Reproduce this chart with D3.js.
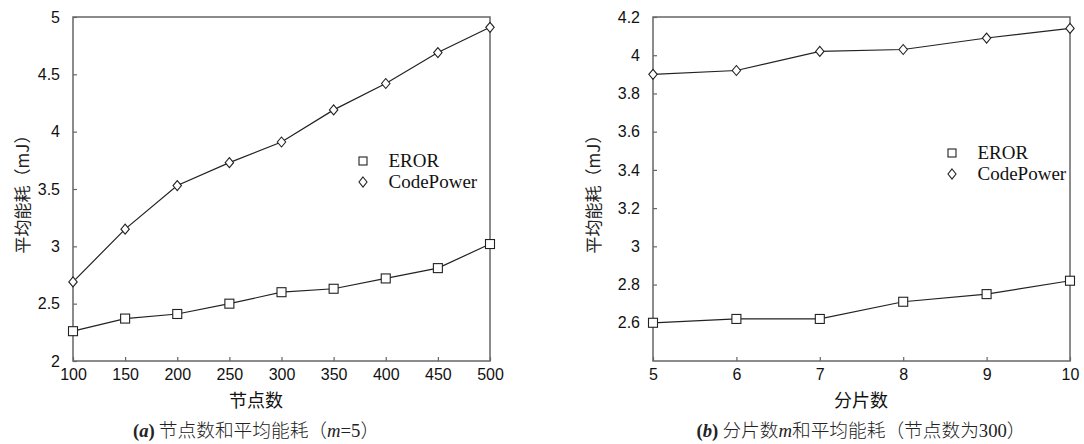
<!DOCTYPE html>
<html><head><meta charset="utf-8">
<script src="https://cdn.jsdelivr.net/npm/d3@7"></script>
<style>
body{margin:0;background:#fff;}
svg{display:block;}
</style></head>
<body>
<svg id="c" width="1084" height="444"></svg>
<script>
// Panel (a)
const nodesX = [100,150,200,250,300,350,400,450,500];
const erorA = [2.26,2.37,2.41,2.50,2.60,2.63,2.72,2.81,3.02];
const codeA = [2.69,3.15,3.53,3.73,3.91,4.19,4.42,4.69,4.91];
const yTicksA = [2,2.5,3,3.5,4,4.5,5];
// Panel (b)
const shardsX = [5,6,7,8,9,10];
const erorB = [2.60,2.62,2.62,2.71,2.75,2.82];
const codeB = [3.90,3.92,4.02,4.03,4.09,4.14];
const yTicksB = [2.6,2.8,3,3.2,3.4,3.6,3.8,4,4.2];
const seriesNames = ["EROR","CodePower"];
const yTitle = "平均能耗（mJ）";

const svg = d3.select("#c");
const SANS = "'Liberation Sans', Arial, sans-serif";
const SERIF = "'Liberation Serif', 'Times New Roman', serif";
const CJK = "'Noto Sans CJK SC', sans-serif";

function panel(o){
  const x = d3.scaleLinear().domain(o.xDom).range([o.left, o.right]);
  const y = d3.scaleLinear().domain(o.yDom).range([o.bottom, o.top]);
  const g = svg.append("g");
  g.append("rect").attr("x",o.left).attr("y",o.top)
    .attr("width",o.right-o.left).attr("height",o.bottom-o.top)
    .attr("fill","none").attr("stroke","#666").attr("stroke-width",1.5);
  const xa = g.append("g").attr("transform",`translate(0,${o.bottom})`)
    .call(d3.axisBottom(x).tickValues(o.xTicks).tickSize(-4).tickPadding(8).tickFormat(d3.format("d")));
  xa.select(".domain").remove();
  xa.selectAll("line").attr("stroke","#666").attr("stroke-width",1.2);
  xa.selectAll("text").attr("font-family",SANS).attr("font-size",16).attr("fill","#111");
  const ya = g.append("g").attr("transform",`translate(${o.left},0)`)
    .call(d3.axisLeft(y).tickValues(o.yTicks).tickSize(-4).tickPadding(13).tickFormat(d=>String(d)));
  ya.select(".domain").remove();
  ya.selectAll("line").attr("stroke","#666").attr("stroke-width",1.2);
  ya.selectAll("text").attr("font-family",SANS).attr("font-size",16).attr("fill","#111");
  const line = d3.line().x(d=>x(d[0])).y(d=>y(d[1]));
  [o.s1,o.s2].forEach((s,i)=>{
    const pts = o.xs.map((v,j)=>[v,s[j]]);
    g.append("path").attr("d",line(pts)).attr("fill","none").attr("stroke","#222").attr("stroke-width",1.2);
    pts.forEach(p=>{
      const cx=x(p[0]), cy=y(p[1]);
      if(i===0) g.append("rect").attr("x",cx-4.5).attr("y",cy-4.5).attr("width",9).attr("height",9)
        .attr("fill","#fff").attr("stroke","#222").attr("stroke-width",1.1);
      else g.append("path").attr("d",`M${cx},${cy-5}L${cx+4.2},${cy}L${cx},${cy+5}L${cx-4.2},${cy}Z`)
        .attr("fill","#fff").attr("stroke","#222").attr("stroke-width",1.1);
    });
  });
  const lx=o.legX, ly=o.legY;
  g.append("rect").attr("x",lx-4).attr("y",ly-4).attr("width",8).attr("height",8)
    .attr("fill","#fff").attr("stroke","#222").attr("stroke-width",1.1);
  g.append("path").attr("d",`M${lx},${ly+21-5}L${lx+4},${ly+21}L${lx},${ly+21+5}L${lx-4},${ly+21}Z`)
    .attr("fill","#fff").attr("stroke","#222").attr("stroke-width",1.1);
  seriesNames.forEach((n,i)=>{
    g.append("text").attr("x",lx+25.5).attr("y",ly+6+i*21).attr("font-family",SERIF)
      .attr("font-size",19).attr("fill","#111").text(n);
  });
  g.append("text").attr("transform",`translate(${o.yTitleX},${(o.top+o.bottom)/2+1}) rotate(-90)`)
    .attr("text-anchor","middle").attr("dominant-baseline","central")
    .attr("font-family",CJK).attr("font-size",17).attr("fill","#222").text(yTitle);
  g.append("text").attr("x",o.xTitleX).attr("y",407).attr("text-anchor","middle")
    .attr("font-family",CJK).attr("font-size",18).attr("fill","#111").text(o.xTitle);
  const cap = g.append("text").attr("x",o.xTitleX).attr("y",437).attr("text-anchor","middle")
    .attr("font-size",18.7).attr("fill","#222");
  o.caption.forEach(part=>{
    const t = cap.append("tspan").text(part.t);
    t.attr("font-family", part.f==="cjk" ? CJK : SERIF);
    if(part.f==="cjk") t.attr("font-weight",300);
    if(part.i) t.attr("font-style","italic");
    if(part.b) t.attr("font-weight","bold");
  });
}

panel({left:73,right:490,top:17,bottom:361,xDom:[100,500],yDom:[2,5],xTicks:nodesX,yTicks:yTicksA,
  xs:nodesX,s1:erorA,s2:codeA,legX:363,legY:161,yTitleX:21,xTitle:"节点数",xTitleX:256,
  caption:[{t:"(",f:"s",b:1},{t:"a",f:"s",b:1,i:1},{t:")",f:"s",b:1},{t:" 节点数和平均能耗（",f:"cjk"},{t:"m",f:"s",i:1},{t:"=5",f:"s"},{t:"）",f:"cjk"}]});

panel({left:653,right:1070,top:17,bottom:361,xDom:[5,10],yDom:[2.4,4.2],xTicks:shardsX,yTicks:yTicksB,
  xs:shardsX,s1:erorB,s2:codeB,legX:952,legY:153,yTitleX:592,xTitle:"分片数",xTitleX:861,
  caption:[{t:"(",f:"s",b:1},{t:"b",f:"s",b:1,i:1},{t:")",f:"s",b:1},{t:" 分片数",f:"cjk"},{t:"m",f:"s",i:1},{t:"和平均能耗（节点数为",f:"cjk"},{t:"300",f:"s"},{t:"）",f:"cjk"}]});
</script>
</body></html>
